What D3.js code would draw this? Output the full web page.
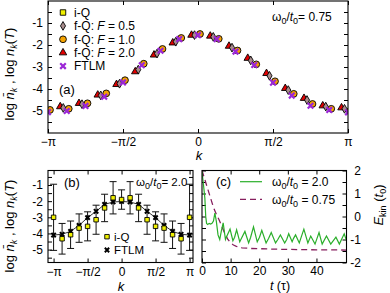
<!DOCTYPE html>
<html><head><meta charset="utf-8">
<script src="https://cdn.jsdelivr.net/npm/d3@7"></script>
<style>
body{margin:0;background:#fff}
svg{display:block}
svg text{font-family:"Liberation Sans",Arial,sans-serif;font-size:12px;fill:#000}
</style>
</head><body><svg id="fig" width="390" height="293"></svg>
<script>
const PI = Math.PI;
// ---------- data ----------
const kSteps = [-8,-7,-6,-5,-4,-3,-2,-1,0,1,2,3,4,5,6,7,8];           // k = step * pi/8
const kTickVals = [-1, -0.5, 0, 0.5, 1];                                // in units of pi
const kTickLabels = ["\u2212\u03c0", "\u2212\u03c0/2", "0", "\u03c0/2", "\u03c0"];
const yTicksA = [-5.5,-5,-4.5,-4,-3.5,-3,-2.5,-2,-1.5,-1,-0.5];
const yLabelsA = [-5,-4,-3,-2,-1];
// panel (a), omega0/t0 = 0.75
const fqF20 = [-5.0,-4.8,-4.65,-4.27,-3.79,-3.21,-2.45,-1.9,-1.55,-1.59,-2.05,-2.6,-3.29,-3.97,-4.42,-4.76,-4.85];
const fqF05 = [-5.0,-4.86,-4.69,-4.29,-3.76,-3.12,-2.39,-1.85,-1.55,-1.63,-2.12,-2.7,-3.4,-4.05,-4.5,-4.8,-4.9];
const fqF10 = [-4.95,-4.9,-4.65,-4.2,-3.6,-2.85,-2.18,-1.68,-1.5,-1.72,-2.25,-2.88,-3.65,-4.22,-4.68,-4.9,-5.0];
const ftlmA = [-5.05,-5.0,-4.77,-4.35,-3.7,-2.92,-2.26,-1.73,-1.55,-1.73,-2.3,-2.91,-3.71,-4.3,-4.76,-4.95,-5.06];
// panel (b), omega0/t0 = 2.0
const iQB    = [-3.0,-4.33,-4.08,-3.67,-3.56,-3.15,-2.42,-1.79,-1.9,-1.79,-2.42,-3.15,-3.56,-3.67,-4.08,-4.33,-3.0];
const iQBErr = [2.05,0.95,0.85,0.88,0.9,0.9,0.85,1.0,0.6,1.0,0.85,0.9,0.9,0.88,0.85,0.95,2.05];
const ftlmB  = [-4.1,-4.05,-3.87,-3.5,-3.02,-2.63,-2.2,-2.05,-2.02,-2.05,-2.2,-2.63,-3.02,-3.5,-3.87,-4.05,-4.1];
const yLabelsB = [-5,-4,-3,-2,-1];
const yTicksB = [-5.5,-5,-4.5,-4,-3.5,-3,-2.5,-2,-1.5,-1,-0.5];
// panel (c): kinetic energy vs time
const tW20 = [0,0.5,1.0,1.3,1.6,2.0,2.5,3.0,3.5,4.0,4.5,5.0,5.6,6.2,6.8,7.4,8.2,8.7,9.8,10.8,11.4,12.1,13.2,13.8,15.0,16.3,17.0,18.0,19.3,20.1,20.9,22.4,23.3,24.2,25.7,26.5,27.4,28.9,29.6,30.3,31.5,32.0,32.7,34.0,35.6,37.0,38.0,39.5,40.9,42.0,43.5,45.0,46.8,48.0,49.7,50.5];
const eW20 = [1.95,1.4,0.8,0.0,-0.3,-0.35,-0.3,-0.33,-0.3,-0.2,0.15,-0.2,-0.8,-1.0,-0.6,-0.28,-1.0,-0.85,-0.55,-1.05,-0.9,-0.58,-1.1,-0.95,-0.65,-1.15,-0.9,-0.45,-1.1,-0.9,-0.6,-1.15,-0.95,-0.7,-1.15,-1.0,-0.8,-1.15,-1.0,-0.75,-1.1,-0.95,-0.8,-1.15,-0.55,-1.15,-0.85,-1.2,-0.7,-1.2,-0.85,-1.2,-0.9,-1.2,-0.75,-1.05];
const tW075 = [0,1,2,3,4,5,6,7,8,9,10,11,12,14,17,20,25,30,35,40,45,50.5];
const eW075 = [2.0,1.6,1.2,0.8,0.4,0.1,-0.15,-0.45,-0.75,-0.98,-1.15,-1.24,-1.3,-1.36,-1.39,-1.4,-1.42,-1.43,-1.44,-1.45,-1.45,-1.46];
const tTicksC = [0,10,20,30,40];
const eTicksC = [-2,-1.5,-1,-0.5,0,0.5,1,1.5,2];
const eLabelsC = [-2,-1,0,1,2];

// ---------- helpers ----------
const svg = d3.select("#fig");
const fmtNum = d => (d < 0 ? "-" + Math.abs(d) : String(d));
function cleanAxis(g){ g.select(".domain").remove(); g.selectAll(".tick line").attr("stroke","#000"); g.attr("font-size",null).attr("font-family",null); }
function frame(x0,y0,x1,y1){ svg.append("rect").attr("x",x0).attr("y",y0).attr("width",x1-x0).attr("height",y1-y0).attr("fill","none").attr("stroke","#000").attr("stroke-width",1.1); }
function omegaLabel(x,y,val,sp,fs){
  const t = svg.append("text").attr("x",x).attr("y",y).style("font-size",(fs||12)+"px");
  t.append("tspan").text("\u03c9");
  t.append("tspan").attr("dy",3).style("font-size","9px").text("0");
  t.append("tspan").attr("dy",-3).text("/");
  t.append("tspan").style("font-style","italic").text("t");
  t.append("tspan").attr("dy",3).style("font-size","9px").text("0");
  t.append("tspan").attr("dy",-3).text((sp?" = ":"= ")+val);
  return t;
}
function ylabelN(x,y){
  const t = svg.append("text").attr("transform",`translate(${x},${y}) rotate(-90)`).attr("text-anchor","middle").style("font-size","13px");
  t.append("tspan").text("log ");
  t.append("tspan").style("font-style","italic").text("n\u0304");
  t.append("tspan").attr("dy",3).style("font-style","italic").style("font-size","9px").text("k");
  t.append("tspan").attr("dy",-3).text(" , log ");
  t.append("tspan").style("font-style","italic").text("n");
  t.append("tspan").attr("dy",3).style("font-style","italic").style("font-size","9px").text("k");
  t.append("tspan").attr("dy",-3).text("(");
  t.append("tspan").style("font-style","italic").text("T");
  t.append("tspan").text(")");
}
const sym = (type,size) => d3.symbol().type(type).size(size)();

// ---------- panel (a) ----------
const xA = d3.scaleLinear([-PI, PI], [48, 348]);
const yA = d3.scaleLinear([-6, 0], [133, 1]);
const kA = kSteps.map(s => s*PI/8);
svg.append("defs").append("clipPath").attr("id","clipA").append("rect").attr("x",48).attr("y",1).attr("width",300).attr("height",132);

svg.append("g").attr("transform","translate(0,133)")
  .call(d3.axisBottom(xA).tickValues(kTickVals.map(v=>v*PI)).tickFormat((d,i)=>kTickLabels[i]).tickSize(-4).tickPadding(4)).call(cleanAxis);
svg.append("g").attr("transform","translate(0,1)")
  .call(d3.axisTop(xA).tickValues(kTickVals.map(v=>v*PI)).tickFormat("").tickSize(-4)).call(cleanAxis);
svg.append("g").attr("transform","translate(48,0)")
  .call(d3.axisLeft(yA).tickValues(yTicksA).tickFormat(d => yLabelsA.includes(d) ? fmtNum(d) : "").tickSize(-4).tickPadding(5)).call(cleanAxis);
svg.append("g").attr("transform","translate(348,0)")
  .call(d3.axisRight(yA).tickValues(yTicksA).tickFormat("").tickSize(-4)).call(cleanAxis);

const seriesA = [
  {vals: fqF20, type: d3.symbolTriangle, size: 24, fill:"#e00000", dx:-6.5},
  {vals: fqF05, type: d3.symbolDiamond,  size: 22, fill:"#a88c8c", dx:-3.5},
  {vals: fqF10, type: d3.symbolCircle,   size: 36, fill:"#f5a300", dx: 2},
  {vals: ftlmA, type: d3.symbolX,        size: 22, fill:null, stroke:"#9b27d6", dx: 0}
];
const gA = svg.append("g").attr("clip-path","url(#clipA)");
seriesA.forEach(s => {
  gA.selectAll(null).data(s.vals).join("path")
    .attr("transform",(d,i)=>`translate(${xA(kA[i])+s.dx},${yA(d)})`)
    .attr("d", sym(s.type,s.size))
    .attr("fill", s.fill || "none")
    .attr("stroke", s.stroke || "#000")
    .attr("stroke-width", s.stroke ? 2.2 : 0.9);
});
frame(48,1,348,133);

// legend (a)
const legA = [
  {label:["i-Q"], type:d3.symbolSquare, size:30, fill:"#f0f000"},
  {label:["f-Q: ","F"," = 0.5"], type:d3.symbolDiamond, size:22, fill:"#a88c8c"},
  {label:["f-Q: ","F"," = 1.0"], type:d3.symbolCircle, size:36, fill:"#f5a300"},
  {label:["f-Q: ","F"," = 2.0"], type:d3.symbolTriangle, size:24, fill:"#e00000"},
  {label:["FTLM"], type:d3.symbolX, size:22, stroke:"#9b27d6"}
];
legA.forEach((e,i) => {
  const y = 12.5 + i*13.4;
  svg.append("path").attr("transform",`translate(63,${y})`).attr("d",sym(e.type,e.size))
    .attr("fill",e.fill||"none").attr("stroke",e.stroke||"#000").attr("stroke-width",e.stroke?2.2:0.9);
  const t = svg.append("text").attr("x",74).attr("y",y+4.3);
  e.label.forEach((p,j) => t.append("tspan").style("font-style", j===1 ? "italic" : null).text(p));
});
svg.append("text").attr("x",59).attr("y",94).style("font-size","13px").text("(a)");
omegaLabel(272,21,"0.75",false);
ylabelN(14,74);
svg.append("text").attr("x",199).attr("y",160).attr("text-anchor","middle").style("font-style","italic").style("font-size","13px").text("k");

// ---------- panel (b) ----------
const xB = d3.scaleLinear([-3.40, 3.30], [48, 193]);
const yB = d3.scaleLinear([-5.8, -0.1], [262.5, 170.5]);
svg.append("g").attr("transform","translate(0,262.5)")
  .call(d3.axisBottom(xB).tickValues(kTickVals.map(v=>v*PI)).tickFormat((d,i)=>kTickLabels[i]).tickSize(-4).tickPadding(5)).call(cleanAxis);
svg.append("g").attr("transform","translate(0,170.5)")
  .call(d3.axisTop(xB).tickValues(kTickVals.map(v=>v*PI)).tickFormat("").tickSize(-4)).call(cleanAxis);
svg.append("g").attr("transform","translate(48,0)")
  .call(d3.axisLeft(yB).tickValues(yTicksB).tickFormat(d => yLabelsB.includes(d) ? fmtNum(d) : "").tickSize(-4).tickPadding(5)).call(cleanAxis);
svg.append("g").attr("transform","translate(193,0)")
  .call(d3.axisRight(yB).tickValues(yTicksB).tickFormat("").tickSize(-4)).call(cleanAxis);

const gB = svg.append("g");
// error bars
iQB.forEach((v,i) => {
  const x = xB(kA[i]), y1 = yB(v+iQBErr[i]), y2 = yB(v-iQBErr[i]);
  gB.append("path").attr("d",`M${x},${y1}V${y2}M${x-3.5},${y1}h7M${x-3.5},${y2}h7`).attr("stroke","#111").attr("stroke-width",1).attr("fill","none");
});
gB.append("path").datum(ftlmB).attr("d", d3.line().x((d,i)=>xB(kA[i])).y(d=>yB(d))).attr("fill","none").attr("stroke","#000").attr("stroke-width",0.8);
gB.selectAll(null).data(ftlmB).join("path").attr("transform",(d,i)=>`translate(${xB(kA[i])},${yB(d)})`)
  .attr("d",sym(d3.symbolX,14)).attr("stroke","#000").attr("stroke-width",2).attr("fill","none");
gB.selectAll(null).data(iQB).join("path").attr("transform",(d,i)=>`translate(${xB(kA[i])},${yB(d)})`)
  .attr("d",sym(d3.symbolSquare,20)).attr("fill","#f0f000").attr("stroke","#000").attr("stroke-width",0.9);
frame(48,170.5,193,262.5);
svg.append("path").attr("transform","translate(107,236.7)").attr("d",sym(d3.symbolSquare,20)).attr("fill","#f0f000").attr("stroke","#000").attr("stroke-width",0.9);
svg.append("text").attr("x",114).attr("y",240.7).style("font-size","11.5px").text("i-Q");
svg.append("path").attr("transform","translate(107,250)").attr("d",sym(d3.symbolX,14)).attr("stroke","#000").attr("stroke-width",2).attr("fill","none");
svg.append("text").attr("x",114).attr("y",254).style("font-size","11.5px").text("FTLM");
svg.append("text").attr("x",64).attr("y",187).style("font-size","13px").text("(b)");
omegaLabel(136,186,"2.0",false,11.5);
ylabelN(14,226);
svg.append("text").attr("x",121).attr("y",291).attr("text-anchor","middle").style("font-style","italic").style("font-size","13px").text("k");

// ---------- panel (c) ----------
const xC = d3.scaleLinear([0, 50.5], [202, 346.5]);
const yC = d3.scaleLinear([-2, 2], [262.5, 170.5]);
svg.append("defs").append("clipPath").attr("id","clipC").append("rect").attr("x",202).attr("y",170.5).attr("width",144.5).attr("height",92);
svg.append("g").attr("transform","translate(0,262.5)")
  .call(d3.axisBottom(xC).tickValues(tTicksC).tickSize(-4).tickPadding(4)).call(cleanAxis);
svg.append("g").attr("transform","translate(0,170.5)")
  .call(d3.axisTop(xC).tickValues(tTicksC).tickFormat("").tickSize(-4)).call(cleanAxis);
svg.append("g").attr("transform","translate(202,0)")
  .call(d3.axisLeft(yC).tickValues(eTicksC).tickFormat("").tickSize(-4)).call(cleanAxis);
const axR = svg.append("g").attr("transform","translate(346.5,0)")
  .call(d3.axisRight(yC).tickValues(eTicksC).tickFormat(d => eLabelsC.includes(d) ? fmtNum(d) : "").tickSize(-4).tickPadding(5)).call(cleanAxis);
axR.selectAll(".tick text").attr("x",14.5).attr("text-anchor","end");

const gC = svg.append("g").attr("clip-path","url(#clipC)");
gC.append("path").datum(eW075).attr("d", d3.line().x((d,i)=>xC(tW075[i])).y(d=>yC(d)))
  .attr("fill","none").attr("stroke","#861f5e").attr("stroke-width",1.3).attr("stroke-dasharray","6,4");
gC.append("path").datum(eW20).attr("d", d3.line().x((d,i)=>xC(tW20[i])).y(d=>yC(d)))
  .attr("fill","none").attr("stroke","#2aae2a").attr("stroke-width",1.2);
frame(202,170.5,346.5,262.5);
svg.append("text").attr("x",216).attr("y",186).style("font-size","13px").text("(c)");
svg.append("line").attr("x1",240).attr("x2",262).attr("y1",181.7).attr("y2",181.7).attr("stroke","#2aae2a").attr("stroke-width",1.2);
omegaLabel(272,186,"2.0",true);
svg.append("line").attr("x1",240).attr("x2",262).attr("y1",199.3).attr("y2",199.3).attr("stroke","#861f5e").attr("stroke-width",1.3).attr("stroke-dasharray","6,4");
omegaLabel(272,204,"0.75",true);
// x label
const tl = svg.append("text").attr("x",280).attr("y",290).attr("text-anchor","middle").style("font-size","12.5px");
tl.append("tspan").style("font-style","italic").text("t");
tl.append("tspan").text(" (\u03c4)");
// y label (right)
const el = svg.append("text").attr("transform","translate(383,205) rotate(-90)").attr("text-anchor","middle").style("font-size","13px");
el.append("tspan").style("font-style","italic").text("E");
el.append("tspan").attr("dy",3).style("font-size","9px").text("kin");
el.append("tspan").attr("dy",-3).text(" (");
el.append("tspan").style("font-style","italic").text("t");
el.append("tspan").attr("dy",3).style("font-size","9px").text("0");
el.append("tspan").attr("dy",-3).text(")");
</script>
</body></html>
